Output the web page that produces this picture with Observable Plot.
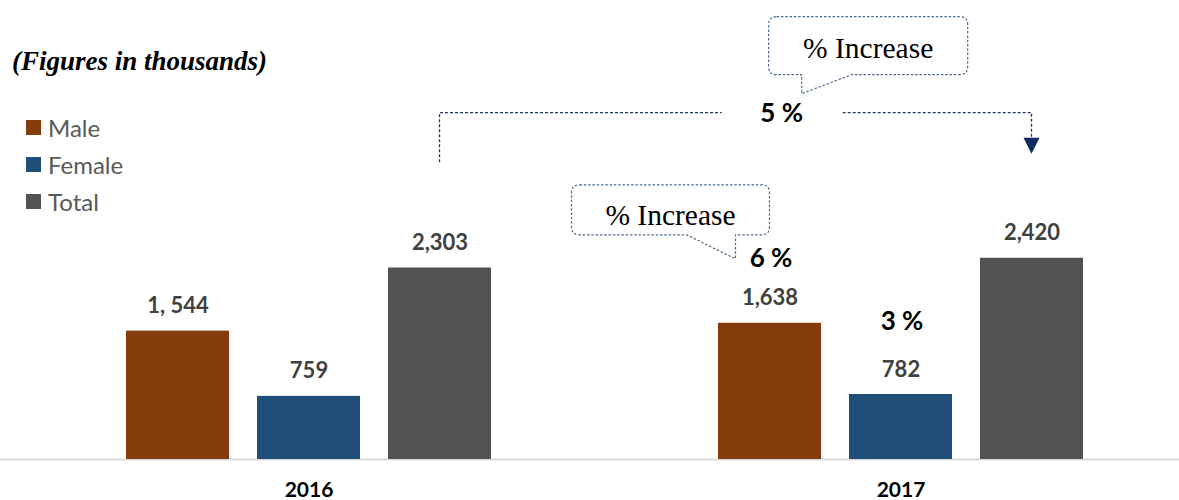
<!DOCTYPE html>
<html><head><meta charset="utf-8">
<script src="https://cdn.jsdelivr.net/npm/d3@7"></script>
<script src="https://cdn.jsdelivr.net/npm/@observablehq/plot@0.6"></script>
<style>
body{margin:0;background:#fff;}
#wrap{position:relative;width:1179px;height:500px;overflow:hidden;background:#fff;}
#chart{position:absolute;left:0;top:0;}
.title{position:absolute;left:12px;top:46px;font:italic bold 27px "Liberation Serif";line-height:30px;color:#000;white-space:nowrap;}
.legend{position:absolute;left:26px;top:0;font:24px Lato;color:#595959;}
.item{position:absolute;left:0;display:flex;align-items:center;white-space:nowrap;height:30px;}
.sw{width:15px;height:15px;margin-right:7px;flex:none;}
</style></head>
<body><div id="wrap"><div id="chart"></div><div class="title">(Figures in thousands)</div><div class="legend" id="legend"></div></div>
<script>
// ---- data ----
const years = ["2016", "2017"];
const genders = ["Male", "Female", "Total"];
const values2016 = [1544, 759, 2303];
const values2017 = [1638, 782, 2420];
const labels2016 = ["1, 544", "759", "2,303"];
const labels2017 = ["1,638", "782", "2,420"];
const colors = ["#843c0c", "#1f4e79", "#525252"];
const pctLabels = ["6 %", "3 %"];          // 2017 Male, 2017 Female
const totalPctLabel = "5 %";
const calloutText = "% Increase";
// annotation levels (data units)
const bracketLevel = 4165, bracketStart = 3570, arrowTip = 3670;

const data = [
  ...genders.map((g, i) => ({year: years[0], gender: g, value: values2016[i], label: labels2016[i]})),
  ...genders.map((g, i) => ({year: years[1], gender: g, value: values2017[i], label: labels2017[i]}))
];
const yearData = years.map(y => ({year: y, gender: genders[1], value: 0}));

const mLeft = -3, mRight = -3;
const chart = Plot.plot({
  width: 1179, height: 500,
  marginTop: 0, marginBottom: 41, marginLeft: mLeft, marginRight: mRight,
  style: {fontFamily: "Lato", color: "#000", background: "transparent", overflow: "visible"},
  fx: {domain: years, padding: 0, label: null, axis: null},
  x: {domain: genders, paddingInner: 0.2167, paddingOuter: 0.861, align: 0.564, axis: null},
  y: {domain: [0, 5520], axis: null},
  color: {domain: genders, range: colors},
  marks: [
    Plot.ruleY([0], {stroke: "#d9d9d9", strokeWidth: 2}),
    Plot.barY(data, {fx: "year", x: "gender", y: "value", fill: "gender"}),
    Plot.text(data, {fx: "year", x: "gender", y: "value", text: "label", dy: -25,
      fontSize: 22, fontWeight: "bold", fill: "#404040"}),
    Plot.text([{year: years[1], gender: "Male", value: values2017[0], label: pctLabels[0]}],
      {fx: "year", x: "gender", y: "value", text: "label", dy: -65, dx: 1, fontSize: 26, fontWeight: "bold", fill: "#000"}),
    Plot.text([{year: years[1], gender: "Female", value: values2017[1], label: pctLabels[1]}],
      {fx: "year", x: "gender", y: "value", text: "label", dy: -73, dx: 1, fontSize: 26, fontWeight: "bold", fill: "#000"}),
    Plot.text(yearData, {fx: "year", x: "gender", y: "value", text: "year", dy: 31,
      fontSize: 21, fontWeight: "bold", fill: "#000"})
  ]
});
document.getElementById("chart").append(chart);

// ---- annotations, positioned through the plot's own scales ----
function calloutPath(x0, y0, x1, y1, r, tailA, tip, tailB) {
  const hi = Math.max(tailA, tailB), lo = Math.min(tailA, tailB);
  return `M${x0 + r},${y0}H${x1 - r}Q${x1},${y0} ${x1},${y0 + r}V${y1 - r}Q${x1},${y1} ${x1 - r},${y1}` +
    `H${hi}L${tip[0]},${tip[1]}L${lo},${y1}H${x0 + r}Q${x0},${y1} ${x0},${y1 - r}V${y0 + r}Q${x0},${y0} ${x0 + r},${y0}Z`;
}
(function annotate() {
  const fx = chart.scale("fx"), x = chart.scale("x"), y = chart.scale("y");
  // facet groups are translated by fx(key) - marginLeft
  const cx = (yr, g) => fx.apply(yr) - mLeft + x.apply(g) + x.bandwidth / 2;
  const Y = v => y.apply(v);
  const g = d3.select(chart).append("g").attr("class", "annotations");
  const navy = "#1f3864", boxStroke = "#4a6a92", dash = "3,2";
  const xL = cx(years[0], "Total"), xR = cx(years[1], "Total");
  const yB = Y(bracketLevel), yLeft = Y(bracketStart), yTip = Y(arrowTip);
  const x5 = xL + (xR - xL) * 0.578;
  g.append("path").attr("d", `M${xL},${yLeft}V${yB}H${x5 - 60}`)
    .attr("fill", "none").attr("stroke", navy).attr("stroke-width", 1.3).attr("stroke-dasharray", dash);
  g.append("path").attr("d", `M${x5 + 61},${yB}H${xR}V${yTip - 15}`)
    .attr("fill", "none").attr("stroke", navy).attr("stroke-width", 1.3).attr("stroke-dasharray", dash);
  g.append("polygon").attr("points", `${xR - 8},${yTip - 16} ${xR + 8},${yTip - 16} ${xR},${yTip}`)
    .attr("fill", "#0e2a5e");
  g.append("text").attr("x", x5).attr("y", yB).attr("dy", "0.36em").attr("text-anchor", "middle")
    .attr("font-family", "Lato").attr("font-weight", "bold").attr("font-size", 26).attr("fill", "#000")
    .text(totalPctLabel);
  // callout 1 (above the 5 %)
  {
    const x0 = x5 - 13, x1 = x5 + 186, y0 = yB - 96, y1 = yB - 38;
    g.append("path").attr("d", calloutPath(x0, y0, x1, y1, 8, x5 + 20, [x5 + 20, yB - 19], x5 + 70))
      .attr("fill", "#fff").attr("stroke", boxStroke).attr("stroke-width", 1.2).attr("stroke-dasharray", "2.5,1.8");
    g.append("text").attr("x", (x0 + x1) / 2).attr("y", y1 - 17).attr("text-anchor", "middle")
      .attr("font-family", "Liberation Serif").attr("font-size", 29.5).attr("fill", "#000").text(calloutText);
  }
  // callout 2 (pointing at 6 %)
  {
    const px = cx(years[1], "Male") + 1, py = Y(values2017[0]) - 65;
    const x0 = px - 199, x1 = px - 1, y0 = py - 73, y1 = py - 23;
    g.append("path").attr("d", calloutPath(x0, y0, x1, y1, 8, px - 35, [px - 35, py + 1], px - 84))
      .attr("fill", "#fff").attr("stroke", boxStroke).attr("stroke-width", 1.2).attr("stroke-dasharray", "2.5,1.8");
    g.append("text").attr("x", (x0 + x1) / 2).attr("y", y1 - 10).attr("text-anchor", "middle")
      .attr("font-family", "Liberation Serif").attr("font-size", 29.5).attr("fill", "#000").text(calloutText);
  }
})();

// ---- legend ----
const legend = document.getElementById("legend");
const legendTops = [112, 149, 186];
genders.forEach((g, i) => {
  const item = document.createElement("div");
  item.className = "item";
  item.style.top = legendTops[i] + "px";
  const sw = document.createElement("span");
  sw.className = "sw";
  sw.style.background = colors[i];
  const t = document.createElement("span");
  t.textContent = g;
  item.append(sw, t);
  legend.append(item);
});
</script>
</body></html>
